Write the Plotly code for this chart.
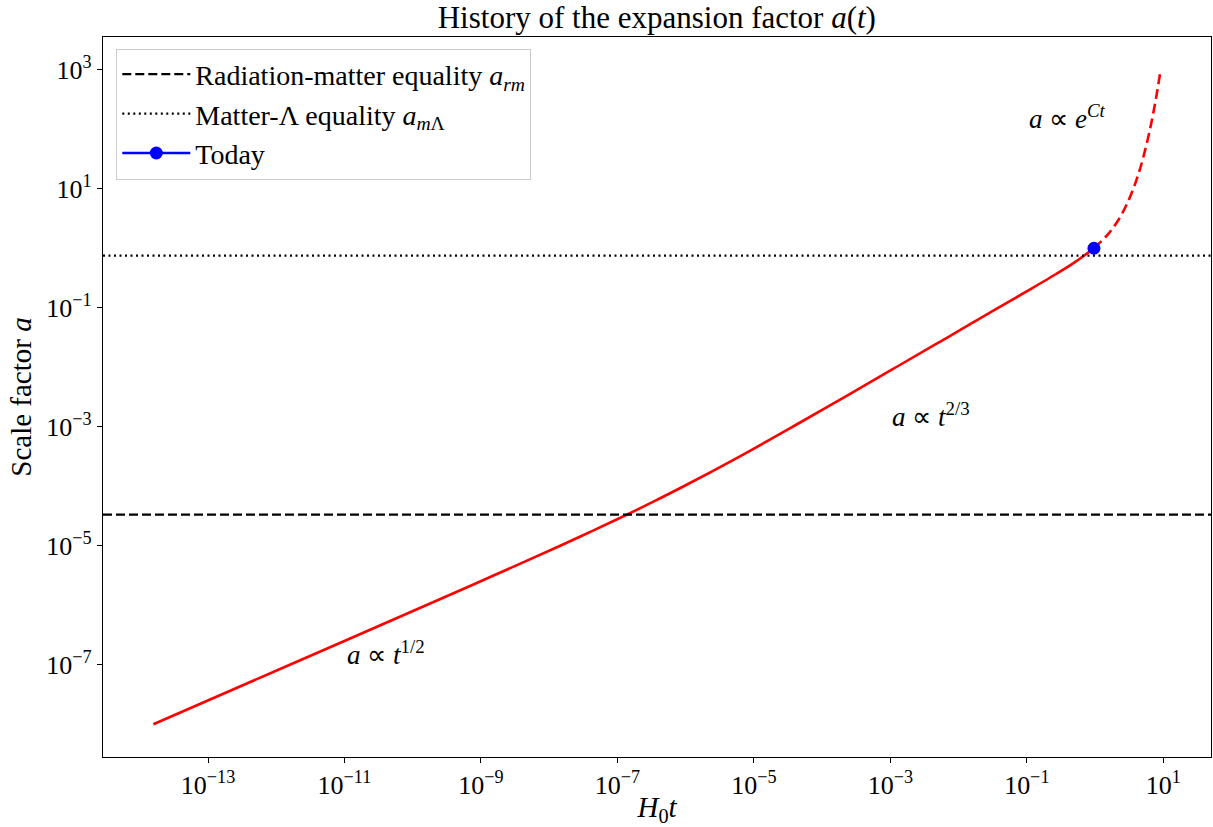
import numpy as np
import plotly.graph_objects as go

# Scale factor a versus H0*t, before today (solid) and after today (dashed)
t_past = [1.58e-14, 1.58e-12, 1.57e-10, 1.53e-9, 1.45e-8, 4.31e-8, 1.25e-7,
          3.48e-7, 9.37e-7, 6.15e-6, 3.70e-5, 2.13e-4, 1.21e-3, 6.83e-3,
          3.85e-2, 9.11e-2, 0.214, 0.483, 0.964]
a_past = [1e-8, 1e-7, 1e-6, 3.16e-6, 1e-5, 1.78e-5, 3.16e-5,
          5.62e-5, 1e-4, 3.16e-4, 1e-3, 3.16e-3, 1e-2, 3.16e-2,
          0.1, 0.178, 0.316, 0.562, 1.0]

t_future = [0.964, 1.59, 2.27, 2.95, 3.64, 4.33, 5.02, 6.39, 7.77, 9.15]
a_future = [1.0, 1.78, 3.16, 5.62, 10.0, 17.8, 31.6, 100.0, 316.0, 1000.0]

# Equality epochs and today
a_rm = 3.33e-5
a_mL = 0.754
t_today = [0.964]
a_today = [1.0]

x_ticks = [1e-13, 1e-11, 1e-9, 1e-7, 1e-5, 1e-3, 1e-1, 1e1]
x_labels = ["10<sup>−13</sup>", "10<sup>−11</sup>", "10<sup>−9</sup>", "10<sup>−7</sup>",
            "10<sup>−5</sup>", "10<sup>−3</sup>", "10<sup>−1</sup>", "10<sup>1</sup>"]
y_ticks = [1e-7, 1e-5, 1e-3, 1e-1, 1e1, 1e3]
y_labels = ["10<sup>−7</sup>", "10<sup>−5</sup>", "10<sup>−3</sup>",
            "10<sup>−1</sup>", "10<sup>1</sup>", "10<sup>3</sup>"]

FONT = "Liberation Serif"

all_t = t_past + t_future
all_a = a_past + a_future


def padded(vals, frac=0.05):
    lo, hi = np.log10(min(vals)), np.log10(max(vals))
    pad = frac * (hi - lo)
    return [lo - pad, hi + pad]


fig = go.Figure()

fig.add_trace(go.Scatter(x=t_past, y=a_past, mode="lines",
                         line=dict(color="#ff0000", width=2.6, shape="spline"),
                         showlegend=False, hoverinfo="skip"))
fig.add_trace(go.Scatter(x=t_future, y=a_future, mode="lines",
                         line=dict(color="#ff0000", width=2.6, dash="10px,5px", shape="spline"),
                         showlegend=False, hoverinfo="skip"))
fig.add_trace(go.Scatter(x=t_today, y=a_today, mode="lines+markers", name="Today",
                         line=dict(color="#0000ff", width=2.6),
                         marker=dict(color="#0000ff", size=13), legendrank=3))

fig.add_shape(type="line", xref="paper", x0=0, x1=1, yref="y", y0=a_rm, y1=a_rm,
              line=dict(color="black", width=2.2, dash="9px,4px"),
              showlegend=True, name="Radiation-matter equality <i>a</i><sub><i>rm</i></sub>",
              legendrank=1)
fig.add_shape(type="line", xref="paper", x0=0, x1=1, yref="y", y0=a_mL, y1=a_mL,
              line=dict(color="black", width=2.2, dash="2px,3.5px"),
              showlegend=True, name="Matter-Λ equality <i>a</i><sub><i>m</i>Λ</sub>",
              legendrank=2)

notes = [
    (1e-11, 1e-7, "<i>a</i> ∝ <i>t</i><sup>1/2</sup>"),
    (1e-3, 1e-3, "<i>a</i> ∝ <i>t</i><sup>2/3</sup>"),
    (1e-1, 1e2, "<i>a</i> ∝ <i>e</i><sup><i>Ct</i></sup>"),
]
for nx, ny, txt in notes:
    fig.add_annotation(x=np.log10(nx), y=np.log10(ny), text=txt, showarrow=False,
                       xanchor="left", yanchor="bottom", yshift=-7,
                       font=dict(family=FONT, size=27, color="black"))

axis_common = dict(
    type="log", showgrid=False, zeroline=False,
    showline=True, linecolor="black", linewidth=1.2, mirror=True,
    ticks="outside", ticklen=5, tickwidth=1.2, tickcolor="black",
    tickfont=dict(family=FONT, size=26, color="black"),
    tickmode="array",
)

fig.update_layout(
    width=1213, height=827,
    margin=dict(l=103, r=2, t=37, b=70),
    paper_bgcolor="white", plot_bgcolor="white",
    title=dict(text="History of the expansion factor <i>a</i>(<i>t</i>)",
               x=0.5415, xanchor="center", y=0.979, yanchor="middle",
               font=dict(family=FONT, size=31, color="black")),
    xaxis=dict(axis_common, range=padded(all_t), tickvals=x_ticks, ticktext=x_labels,
               title=dict(text="<i>H</i><sub>0</sub><i>t</i>", standoff=0,
                          font=dict(family=FONT, size=29, color="black"))),
    yaxis=dict(axis_common, range=padded(all_a), tickvals=y_ticks, ticktext=y_labels,
               title=dict(text="Scale factor <i>a</i>", standoff=6,
                          font=dict(family=FONT, size=29, color="black"))),
    legend=dict(x=0.012, y=0.984, xanchor="left", yanchor="top",
                bgcolor="rgba(255,255,255,0.8)", bordercolor="#cccccc", borderwidth=1,
                font=dict(family=FONT, size=28, color="black"),
                itemwidth=68),
    showlegend=True,
)

fig.write_html("out.html")
